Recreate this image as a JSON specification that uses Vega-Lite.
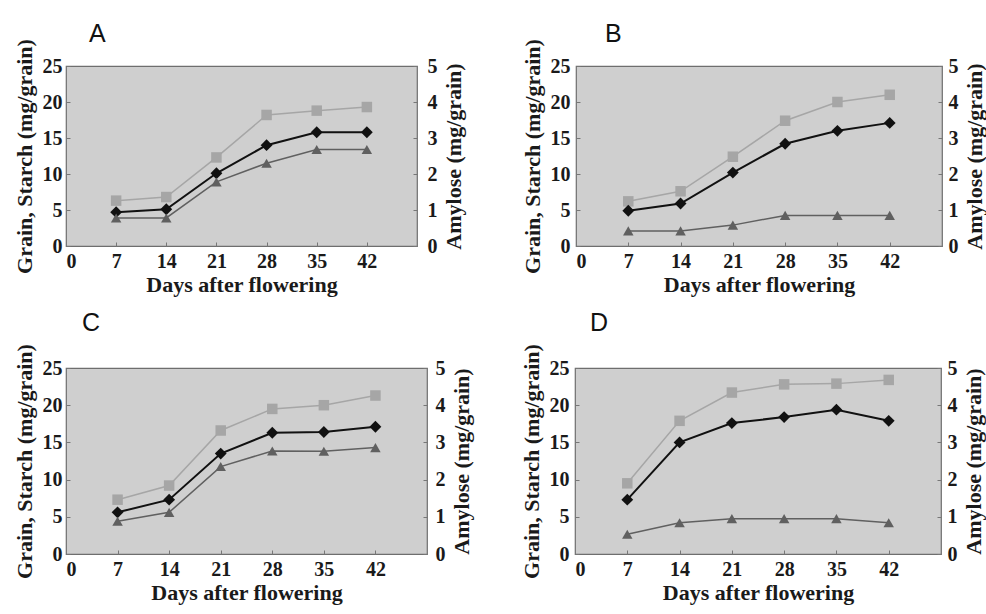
{
  "$schema": "https://vega.github.io/schema/vega-lite/v6.json",
  "background": "white",
  "padding": {"left": 12, "top": 20, "right": 0, "bottom": 2},
  "datasets": {
    "d": [
      {"panel": "A", "day": 7, "series": "Grain", "value": 6.3},
      {"panel": "A", "day": 14, "series": "Grain", "value": 6.8},
      {"panel": "A", "day": 21, "series": "Grain", "value": 12.3},
      {"panel": "A", "day": 28, "series": "Grain", "value": 18.2},
      {"panel": "A", "day": 35, "series": "Grain", "value": 18.8},
      {"panel": "A", "day": 42, "series": "Grain", "value": 19.3},
      {"panel": "A", "day": 7, "series": "Starch", "value": 4.7},
      {"panel": "A", "day": 14, "series": "Starch", "value": 5.1},
      {"panel": "A", "day": 21, "series": "Starch", "value": 10.1},
      {"panel": "A", "day": 28, "series": "Starch", "value": 14.0},
      {"panel": "A", "day": 35, "series": "Starch", "value": 15.8},
      {"panel": "A", "day": 42, "series": "Starch", "value": 15.8},
      {"panel": "A", "day": 7, "series": "Amylose", "value": 0.78},
      {"panel": "A", "day": 14, "series": "Amylose", "value": 0.78},
      {"panel": "A", "day": 21, "series": "Amylose", "value": 1.78},
      {"panel": "A", "day": 28, "series": "Amylose", "value": 2.3},
      {"panel": "A", "day": 35, "series": "Amylose", "value": 2.68},
      {"panel": "A", "day": 42, "series": "Amylose", "value": 2.68},
      {"panel": "B", "day": 7, "series": "Grain", "value": 6.2},
      {"panel": "B", "day": 14, "series": "Grain", "value": 7.6},
      {"panel": "B", "day": 21, "series": "Grain", "value": 12.4},
      {"panel": "B", "day": 28, "series": "Grain", "value": 17.4},
      {"panel": "B", "day": 35, "series": "Grain", "value": 20.0},
      {"panel": "B", "day": 42, "series": "Grain", "value": 21.0},
      {"panel": "B", "day": 7, "series": "Starch", "value": 4.9},
      {"panel": "B", "day": 14, "series": "Starch", "value": 5.9},
      {"panel": "B", "day": 21, "series": "Starch", "value": 10.2},
      {"panel": "B", "day": 28, "series": "Starch", "value": 14.2},
      {"panel": "B", "day": 35, "series": "Starch", "value": 16.0},
      {"panel": "B", "day": 42, "series": "Starch", "value": 17.1},
      {"panel": "B", "day": 7, "series": "Amylose", "value": 0.42},
      {"panel": "B", "day": 14, "series": "Amylose", "value": 0.42},
      {"panel": "B", "day": 21, "series": "Amylose", "value": 0.58},
      {"panel": "B", "day": 28, "series": "Amylose", "value": 0.85},
      {"panel": "B", "day": 35, "series": "Amylose", "value": 0.85},
      {"panel": "B", "day": 42, "series": "Amylose", "value": 0.85},
      {"panel": "C", "day": 7, "series": "Grain", "value": 7.3},
      {"panel": "C", "day": 14, "series": "Grain", "value": 9.2},
      {"panel": "C", "day": 21, "series": "Grain", "value": 16.6},
      {"panel": "C", "day": 28, "series": "Grain", "value": 19.5},
      {"panel": "C", "day": 35, "series": "Grain", "value": 20.0},
      {"panel": "C", "day": 42, "series": "Grain", "value": 21.3},
      {"panel": "C", "day": 7, "series": "Starch", "value": 5.6},
      {"panel": "C", "day": 14, "series": "Starch", "value": 7.3},
      {"panel": "C", "day": 21, "series": "Starch", "value": 13.5},
      {"panel": "C", "day": 28, "series": "Starch", "value": 16.3},
      {"panel": "C", "day": 35, "series": "Starch", "value": 16.4},
      {"panel": "C", "day": 42, "series": "Starch", "value": 17.1},
      {"panel": "C", "day": 7, "series": "Amylose", "value": 0.88},
      {"panel": "C", "day": 14, "series": "Amylose", "value": 1.12},
      {"panel": "C", "day": 21, "series": "Amylose", "value": 2.35},
      {"panel": "C", "day": 28, "series": "Amylose", "value": 2.77},
      {"panel": "C", "day": 35, "series": "Amylose", "value": 2.76},
      {"panel": "C", "day": 42, "series": "Amylose", "value": 2.86},
      {"panel": "D", "day": 7, "series": "Grain", "value": 9.5},
      {"panel": "D", "day": 14, "series": "Grain", "value": 17.9},
      {"panel": "D", "day": 21, "series": "Grain", "value": 21.7},
      {"panel": "D", "day": 28, "series": "Grain", "value": 22.8},
      {"panel": "D", "day": 35, "series": "Grain", "value": 22.9},
      {"panel": "D", "day": 42, "series": "Grain", "value": 23.4},
      {"panel": "D", "day": 7, "series": "Starch", "value": 7.3},
      {"panel": "D", "day": 14, "series": "Starch", "value": 15.0},
      {"panel": "D", "day": 21, "series": "Starch", "value": 17.6},
      {"panel": "D", "day": 28, "series": "Starch", "value": 18.4},
      {"panel": "D", "day": 35, "series": "Starch", "value": 19.4},
      {"panel": "D", "day": 42, "series": "Starch", "value": 17.9},
      {"panel": "D", "day": 7, "series": "Amylose", "value": 0.53},
      {"panel": "D", "day": 14, "series": "Amylose", "value": 0.84},
      {"panel": "D", "day": 21, "series": "Amylose", "value": 0.95},
      {"panel": "D", "day": 28, "series": "Amylose", "value": 0.95},
      {"panel": "D", "day": 35, "series": "Amylose", "value": 0.95},
      {"panel": "D", "day": 42, "series": "Amylose", "value": 0.84}
    ]
  },
  "data": {"name": "d"},
  "config": {
    "view": {"fill": "#cfcfcf", "stroke": "#6e6e6e", "strokeWidth": 1.2},
    "title": {"font": "Liberation Sans", "fontSize": 25, "fontWeight": "normal", "color": "#111", "anchor": "start", "frame": "group"},
    "axis": {
      "domain": false, "grid": false,
      "tickColor": "#777", "tickSize": -4, "tickWidth": 1,
      "labelFont": "Liberation Serif", "labelFontSize": 20, "labelFontWeight": "bold", "labelColor": "#1a1a1a",
      "titleFont": "Liberation Serif", "titleFontSize": 22, "titleFontWeight": "bold", "titleColor": "#1a1a1a"
    }
  },
  "vconcat": [
    {
      "spacing": 55,
      "hconcat": [
        {
          "title": {"text": "A", "dx": 23, "offset": -8},
          "width": 351, "height": 180,
          "encoding": {"x": {"field": "day", "type": "quantitative", "scale": {"domain": [0, 49], "nice": false}, "axis": {"values": [0, 7, 14, 21, 28, 35, 42], "title": "Days after flowering", "labelPadding": 9, "titlePadding": 3}}},
          "layer": [
            {
              "encoding": {"y": {"field": "value", "type": "quantitative", "scale": {"domain": [0, 25], "nice": false}, "axis": {"values": [0, 5, 10, 15, 20, 25], "title": "Grain, Starch (mg/grain)", "labelPadding": 8, "titlePadding": 6}}},
              "layer": [
                {"transform": [{"filter": "datum.panel === 'A' && datum.series === 'Grain'"}], "mark": {"type": "line", "color": "#a6a6a6", "strokeWidth": 1.5, "point": {"shape": "square", "size": 110, "filled": true, "color": "#a6a6a6", "opacity": 1}}},
                {"transform": [{"filter": "datum.panel === 'A' && datum.series === 'Starch'"}], "mark": {"type": "line", "color": "#111111", "strokeWidth": 2, "point": {"shape": "diamond", "size": 140, "filled": true, "color": "#111111", "opacity": 1}}}
              ]
            },
            {"transform": [{"filter": "datum.panel === 'A' && datum.series === 'Amylose'"}], "mark": {"type": "line", "color": "#606060", "strokeWidth": 1.5, "point": {"shape": "triangle-up", "size": 110, "filled": true, "color": "#606060", "opacity": 1}},
             "encoding": {"y": {"field": "value", "type": "quantitative", "scale": {"domain": [0, 5], "nice": false}, "axis": {"orient": "right", "values": [0, 1, 2, 3, 4, 5], "title": "Amylose (mg/grain)", "titleAngle": 270, "titleBaseline": "top", "labelPadding": 14, "titlePadding": 6}}}}
          ],
          "resolve": {"scale": {"y": "independent"}}
        },
        {
          "title": {"text": "B", "dx": 29, "offset": -8},
          "width": 366, "height": 180,
          "encoding": {"x": {"field": "day", "type": "quantitative", "scale": {"domain": [0, 49], "nice": false}, "axis": {"values": [0, 7, 14, 21, 28, 35, 42], "title": "Days after flowering", "labelPadding": 9, "titlePadding": 3}}},
          "layer": [
            {
              "encoding": {"y": {"field": "value", "type": "quantitative", "scale": {"domain": [0, 25], "nice": false}, "axis": {"values": [0, 5, 10, 15, 20, 25], "title": "Grain, Starch (mg/grain)", "labelPadding": 10, "titlePadding": 6}}},
              "layer": [
                {"transform": [{"filter": "datum.panel === 'B' && datum.series === 'Grain'"}], "mark": {"type": "line", "color": "#a6a6a6", "strokeWidth": 1.5, "point": {"shape": "square", "size": 110, "filled": true, "color": "#a6a6a6", "opacity": 1}}},
                {"transform": [{"filter": "datum.panel === 'B' && datum.series === 'Starch'"}], "mark": {"type": "line", "color": "#111111", "strokeWidth": 2, "point": {"shape": "diamond", "size": 140, "filled": true, "color": "#111111", "opacity": 1}}}
              ]
            },
            {"transform": [{"filter": "datum.panel === 'B' && datum.series === 'Amylose'"}], "mark": {"type": "line", "color": "#606060", "strokeWidth": 1.5, "point": {"shape": "triangle-up", "size": 110, "filled": true, "color": "#606060", "opacity": 1}},
             "encoding": {"y": {"field": "value", "type": "quantitative", "scale": {"domain": [0, 5], "nice": false}, "axis": {"orient": "right", "values": [0, 1, 2, 3, 4, 5], "title": "Amylose (mg/grain)", "titleAngle": 270, "titleBaseline": "top", "labelPadding": 10, "titlePadding": 6}}}}
          ],
          "resolve": {"scale": {"y": "independent"}}
        }
      ]
    },
    {
      "spacing": 46,
      "hconcat": [
        {
          "title": {"text": "C", "dx": 16, "offset": 8},
          "width": 361, "height": 186,
          "encoding": {"x": {"field": "day", "type": "quantitative", "scale": {"domain": [0, 49], "nice": false}, "axis": {"values": [0, 7, 14, 21, 28, 35, 42], "title": "Days after flowering", "labelPadding": 9, "titlePadding": 3}}},
          "layer": [
            {
              "encoding": {"y": {"field": "value", "type": "quantitative", "scale": {"domain": [0, 25], "nice": false}, "axis": {"values": [0, 5, 10, 15, 20, 25], "title": "Grain, Starch (mg/grain)", "labelPadding": 8, "titlePadding": 6}}},
              "layer": [
                {"transform": [{"filter": "datum.panel === 'C' && datum.series === 'Grain'"}], "mark": {"type": "line", "color": "#a6a6a6", "strokeWidth": 1.5, "point": {"shape": "square", "size": 110, "filled": true, "color": "#a6a6a6", "opacity": 1}}},
                {"transform": [{"filter": "datum.panel === 'C' && datum.series === 'Starch'"}], "mark": {"type": "line", "color": "#111111", "strokeWidth": 2, "point": {"shape": "diamond", "size": 140, "filled": true, "color": "#111111", "opacity": 1}}}
              ]
            },
            {"transform": [{"filter": "datum.panel === 'C' && datum.series === 'Amylose'"}], "mark": {"type": "line", "color": "#606060", "strokeWidth": 1.5, "point": {"shape": "triangle-up", "size": 110, "filled": true, "color": "#606060", "opacity": 1}},
             "encoding": {"y": {"field": "value", "type": "quantitative", "scale": {"domain": [0, 5], "nice": false}, "axis": {"orient": "right", "values": [0, 1, 2, 3, 4, 5], "title": "Amylose (mg/grain)", "titleAngle": 270, "titleBaseline": "top", "labelPadding": 12, "titlePadding": 6}}}}
          ],
          "resolve": {"scale": {"y": "independent"}}
        },
        {
          "title": {"text": "D", "dx": 15, "offset": 8},
          "width": 366, "height": 186,
          "encoding": {"x": {"field": "day", "type": "quantitative", "scale": {"domain": [0, 49], "nice": false}, "axis": {"values": [0, 7, 14, 21, 28, 35, 42], "title": "Days after flowering", "labelPadding": 9, "titlePadding": 3}}},
          "layer": [
            {
              "encoding": {"y": {"field": "value", "type": "quantitative", "scale": {"domain": [0, 25], "nice": false}, "axis": {"values": [0, 5, 10, 15, 20, 25], "title": "Grain, Starch (mg/grain)", "labelPadding": 10, "titlePadding": 6}}},
              "layer": [
                {"transform": [{"filter": "datum.panel === 'D' && datum.series === 'Grain'"}], "mark": {"type": "line", "color": "#a6a6a6", "strokeWidth": 1.5, "point": {"shape": "square", "size": 110, "filled": true, "color": "#a6a6a6", "opacity": 1}}},
                {"transform": [{"filter": "datum.panel === 'D' && datum.series === 'Starch'"}], "mark": {"type": "line", "color": "#111111", "strokeWidth": 2, "point": {"shape": "diamond", "size": 140, "filled": true, "color": "#111111", "opacity": 1}}}
              ]
            },
            {"transform": [{"filter": "datum.panel === 'D' && datum.series === 'Amylose'"}], "mark": {"type": "line", "color": "#606060", "strokeWidth": 1.5, "point": {"shape": "triangle-up", "size": 110, "filled": true, "color": "#606060", "opacity": 1}},
             "encoding": {"y": {"field": "value", "type": "quantitative", "scale": {"domain": [0, 5], "nice": false}, "axis": {"orient": "right", "values": [0, 1, 2, 3, 4, 5], "title": "Amylose (mg/grain)", "titleAngle": 270, "titleBaseline": "top", "labelPadding": 10, "titlePadding": 6}}}}
          ],
          "resolve": {"scale": {"y": "independent"}}
        }
      ]
    }
  ],
  "spacing": 13
}
